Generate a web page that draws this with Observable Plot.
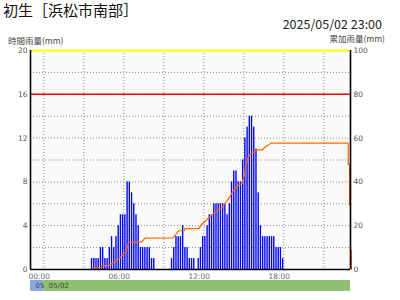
<!DOCTYPE html>
<html><head><meta charset="utf-8">
<script src="https://cdn.jsdelivr.net/npm/d3@7"></script>
<script src="https://cdn.jsdelivr.net/npm/@observablehq/plot@0.6"></script>
<style>
body{margin:0;background:#fff;}
#wrap{position:relative;width:400px;height:300px;overflow:hidden;font-family:"Noto Sans CJK JP",sans-serif;}
.t{position:absolute;white-space:nowrap;line-height:1;}
#wrap svg{position:absolute;left:0;top:0;}
</style></head><body><div id="wrap"></div>
<script>
const stationTitle = "初生［浜松市南部］";
const stamp = "2025/05/02 23:00";
const leftLabel = "時間雨量(mm)";
const rightLabel = "累加雨量(mm)";

// 10-minute rainfall (hourly rate, mm) — end time of each interval on 05/02
const barTimes = ["03:40","03:50","04:00","04:10","04:20","04:30","04:40","04:50","05:00","05:10","05:20","05:30","05:40","05:50","06:00","06:10","06:20","06:30","06:40","06:50","07:00","07:10","07:20","07:30","07:40","07:50","08:00","08:10","08:20",
"09:40","09:50","10:00","10:10","10:20","10:30","10:40","10:50","11:00","11:10","11:20","11:40","11:50","12:00","12:10","12:20","12:30","12:40","12:50","13:00","13:10","13:20","13:30","13:40","13:50","14:00","14:10","14:20","14:30","14:40","14:50","15:00","15:10","15:20","15:30","15:40","15:50","16:00","16:10","16:20","16:30","16:40","16:50","17:00","17:10","17:20","17:30","17:40","17:50","18:00"];
const barValues = [1,1,1,1,2,2,1,1,2,3,2,3,4,5,5,5,8,8,7,6,5,4,2,2,2,2,2,1,1,
1,2,3,3,3,4,2,2,1,1,1,1,2,3,3,4,5,5,6,6,6,6,6,6,5,6,8,9,9,8,8,10,12,13,14,14,13,11,7,4,3,3,3,3,3,3,2,2,2,1];

// cumulative rainfall (mm, right axis)
const cumTimes = ["03:40","03:40","04:20","04:20","04:54","05:09","05:30","05:50","06:09","06:20","06:24","07:20","07:35","09:42","10:07","10:32","10:35","11:37","11:52","12:22","12:52","13:22","13:39","13:54","14:09","14:24","14:39","14:51","14:57","15:03","15:12","15:21","15:32","15:47","15:58","16:24","16:32","16:47","17:02","22:50","22:50","22:56","22:56"];
const cumValues = [0,0.9,0.9,1.8,1.8,2.9,4.4,6.2,8.1,11.7,12.5,12.5,14.3,14.4,17.7,17.7,18.7,18.7,20.8,23.6,26.2,28.4,30.7,32.7,35.3,37.6,38.8,39.1,41.4,43.7,48.3,51.6,52.8,53.6,54.6,54.6,55.6,56.6,57.7,57.7,48,48,29.5];
const tailTimes = ["23:04","23:04"];
const tailValues = [0, 8.7];

const xTickLabels = ["00:00","06:00","12:00","18:00"];
const xGridTimes = ["00:00","03:00","06:00","09:00","12:00","15:00","18:00","21:00"];
const leftTicks = [0,4,8,12,16,20];
const rightTicks = [0,20,40,60,80,100];
const yGrid = [2,4,6,8,10,12,14,16,18];
const warnLevels = [20,16];
const warnColors = ["#ffff00","#ff0000"];
const bandLabels = ["05","05/02"];
const bandStart = ["-01:00","00:00"];
const bandEnd = ["00:00","23:00"];
const bandColors = ["#8aa6e0","#8dc06e"];

const toMin = s => { const neg = s[0] === "-"; const [h, m] = s.replace("-","").split(":").map(Number); return (neg ? -1 : 1) * (h*60+m); };
const bars = barTimes.map((t,i)=>({m: toMin(t), v: barValues[i]}));
const cum = cumTimes.map((t,i)=>({m: toMin(t), v: cumValues[i]}));
const tail = tailTimes.map((t,i)=>({m: toMin(t), v: tailValues[i]}));
const bands = bandLabels.map((l,i)=>({label:l, s: toMin(bandStart[i]), e: toMin(bandEnd[i]), c: bandColors[i]}));
const warns = warnLevels.map((v,i)=>({v, c: warnColors[i], w: i===0?2:1.5}));
const x0 = toMin(bandStart[0]), x1 = toMin(bandEnd[1]);
const tickFont = "DejaVu Sans";

const chart = Plot.plot({
  width: 400, height: 300,
  marginLeft: 30, marginRight: 50, marginTop: 50, marginBottom: 31,
  x: {type: "linear", domain: [x0, x1], axis: null},
  y: {domain: [0, 20], axis: null},
  color: {type: "identity"},
  style: {background: "transparent", overflow: "visible"},
  marks: [
    Plot.frame({fill: "#f8fbf8", stroke: "none"}),
    Plot.ruleY(yGrid, {stroke: "#8a8a8a", strokeDasharray: "1,2"}),
    Plot.ruleX(xGridTimes.map(toMin), {stroke: "#8a8a8a", strokeDasharray: "1,2"}),
    Plot.rectY(bars, {x1: d => d.m - 10, x2: d => d.m, y: "v", fill: "#0000ff", insetLeft: 0.85}),
    Plot.ruleY(warns, {y: "v", stroke: "c", strokeWidth: "w"}),
    Plot.line(cum, {x: "m", y: d => d.v / 5, stroke: "#ff6600", strokeWidth: 1.2}),
    Plot.line(tail, {x: "m", y: d => d.v / 5, stroke: "#ff6600", strokeWidth: 1.2}),
    Plot.ruleX([x0, x1], {stroke: "#000", strokeWidth: 1.6}),
    Plot.ruleY([0], {stroke: "#000", strokeWidth: 1.6}),
    Plot.text(leftTicks, {x: () => x0, y: d => d, text: d => String(d), textAnchor: "end", dx: -3, fontSize: 7.5, fontFamily: tickFont, fill: "#555"}),
    Plot.text(rightTicks, {x: () => x1, y: d => d / 5, text: d => String(d), textAnchor: "start", dx: 3, fontSize: 7.5, fontFamily: tickFont, fill: "#555"}),
    Plot.text(xTickLabels, {x: d => toMin(d), y: () => 0, text: d => d, dy: 7, dx: -4.5, fontSize: 7.5, fontFamily: tickFont, fill: "#666"}),
    Plot.rect(bands, {x1: "s", x2: "e", y1: () => -1.0, y2: () => -2.0, fill: "c"}),
    Plot.text(bands, {x: "s", y: () => -1.5, text: "label", textAnchor: "start", dx: 5, fontSize: 7, fontFamily: tickFont, fill: "#444"})
  ]
});

const wrap = document.getElementById("wrap");
wrap.appendChild(chart);
const addText = (txt, css) => { const d = document.createElement("div"); d.className = "t"; d.textContent = txt; Object.assign(d.style, css); wrap.appendChild(d); };
addText(stationTitle, {left: "3px", top: "2px", fontSize: "15px", color: "#111"});
addText(stamp, {right: "18px", top: "18px", fontSize: "12.5px", color: "#222"});
addText(leftLabel, {left: "8px", top: "36px", fontSize: "8.5px", color: "#444"});
addText(rightLabel, {right: "15px", top: "34px", fontSize: "8.5px", color: "#444"});
</script></body></html>
